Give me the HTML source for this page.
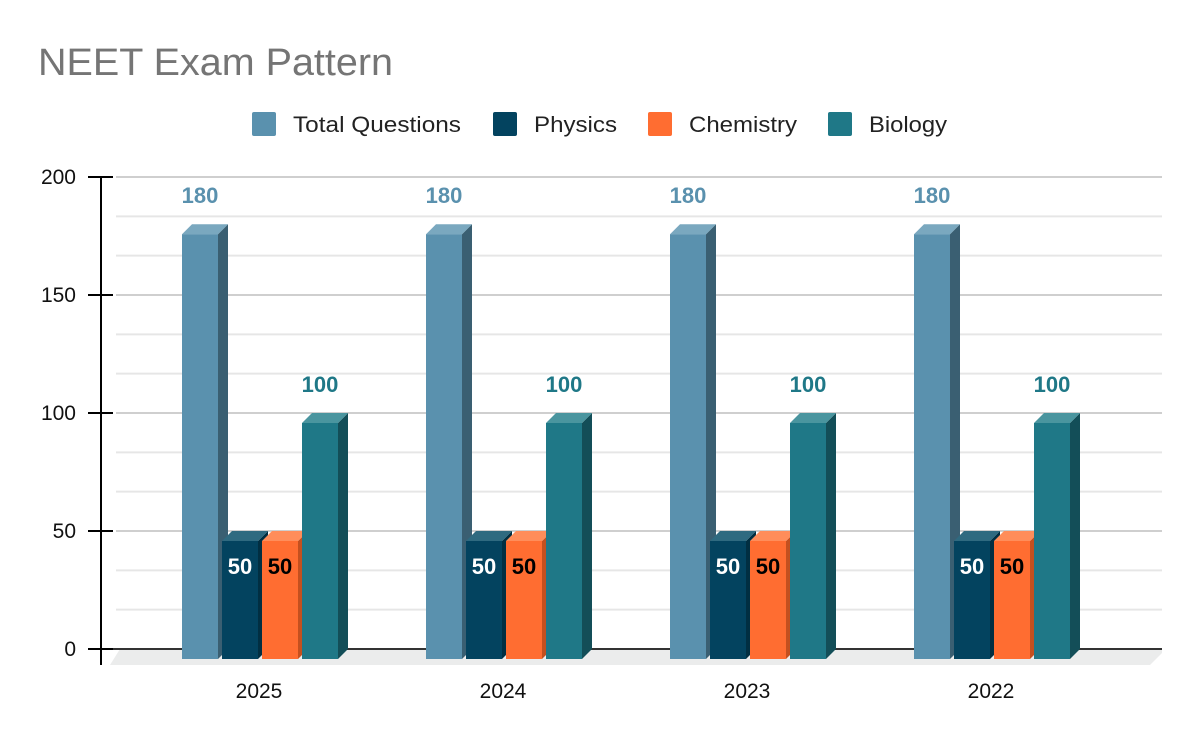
<!DOCTYPE html>
<html><head><meta charset="utf-8"><style>
body{margin:0;background:#fff;}
svg{display:block;font-family:"Liberation Sans",Arial,sans-serif;}
</style></head><body>
<svg id="chart" width="1200" height="742" viewBox="0 0 1200 742">
<rect width="1200" height="742" fill="#fff"/>
<text x="38" y="75" font-size="38" fill="#757575" textLength="355" lengthAdjust="spacingAndGlyphs">NEET Exam Pattern</text>
<g id="legend"></g>
<g id="grid"></g>
<g id="axis"></g>
<g id="bars"></g>
</svg>
<script>
const categories = ['2025','2024','2023','2022'];
const totalQuestions = [180,180,180,180];
const physics = [50,50,50,50];
const chemistry = [50,50,50,50];
const biology = [100,100,100,100];
const yTicks = [0,50,100,150,200];
const seriesNames = ['Total Questions','Physics','Chemistry','Biology'];

const NS='http://www.w3.org/2000/svg';
const svg=document.getElementById('chart');
function mk(tag,attrs,parent){const e=document.createElementNS(NS,tag);for(const k in attrs)e.setAttribute(k,attrs[k]);parent.appendChild(e);return e;}
const y0=649, pxPerUnit=118/50;
function yScale(v){return y0-v*pxPerUnit;}
const groupStart=182, groupStep=244, barW=36, barGap=40;
function xScale(ci,si){return groupStart+ci*groupStep+si*barGap;}
const colors=[
 {f:'#5a91ae',s:'#3a5f72',t:'#7aa8bf',label:'#5a91ae'},
 {f:'#03435f',s:'#012f42',t:'#2f6a80',label:'#fff'},
 {f:'#ff6d31',s:'#c4501f',t:'#ff8d5a',label:'#000'},
 {f:'#1f7887',s:'#134e58',t:'#4a959f',label:'#1f7887'}];
const legendX=[252,493,648,828];
const legendW=[168,83,108,78];
const leg=document.getElementById('legend');
seriesNames.forEach((n,i)=>{
 const r=mk('rect',{x:legendX[i],y:112,width:24,height:24,rx:2,fill:colors[i].f},leg);
 
 
 const t=mk('text',{x:legendX[i]+41,y:132,'font-size':22,fill:'#222',textLength:legendW[i],lengthAdjust:'spacingAndGlyphs'},leg);
 t.textContent=n;
 
 
});
const grid=document.getElementById('grid');
const floor=mk('polygon',{points:'110,665 1150,665 1162,653 1162,649 120,649',fill:'#ebecec'},grid);


for(let k=1;k<=12;k++){
 const v=k*50/3;
 const major=(k%3===0);
 const l=mk('line',{x1:116,x2:1162,y1:yScale(v),y2:yScale(v),stroke:major?'#cfcfcf':'#e6e6e6','stroke-width':2},grid);
 
 
}
const ax=document.getElementById('axis');
const base=mk('line',{x1:100,x2:1162,y1:y0,y2:y0,stroke:'#333','stroke-width':2},ax);


const vl=mk('line',{x1:101,x2:101,y1:176,y2:665,stroke:'#000','stroke-width':2},ax);


yTicks.forEach(v=>{
 const tk=mk('line',{x1:88,x2:113,y1:yScale(v),y2:yScale(v),stroke:'#000','stroke-width':2},ax);
 
 
 const t=mk('text',{x:76,y:yScale(v)+7,'font-size':21,fill:'#111','text-anchor':'end'},ax);
 t.textContent=v;
 
 
});
categories.forEach((c,ci)=>{
 const t=mk('text',{x:xScale(ci,0)+77,y:698,'font-size':21,fill:'#111','text-anchor':'middle'},ax);
 t.textContent=c;
 
 
});
const bars=document.getElementById('bars');
const series=[totalQuestions,physics,chemistry,biology];
const d=10;
categories.forEach((c,ci)=>{
 series.forEach((arr,si)=>{
  const v=arr[ci];const col=colors[si];
  const x=xScale(ci,si), yb=y0+d, yt=yScale(v)+d;
  const g=mk('g',{},bars);
  
  
  mk('polygon',{points:`${x+barW},${yt} ${x+barW+d},${yt-d} ${x+barW+d},${yb-d} ${x+barW},${yb}`,fill:col.s},g);
  mk('polygon',{points:`${x},${yt} ${x+d},${yt-d} ${x+barW+d},${yt-d} ${x+barW},${yt}`,fill:col.t},g);
  mk('rect',{x:x,y:yt,width:barW,height:yb-yt,fill:col.f},g);
  const inside=(si===1||si===2);
  const t=mk('text',{x:x+barW/2,y:inside?yt+33:yt-31,'font-size':22,'font-weight':'bold',fill:col.label,'text-anchor':'middle'},g);
  t.textContent=v;
  
  
 });
});
</script>
</body></html>
